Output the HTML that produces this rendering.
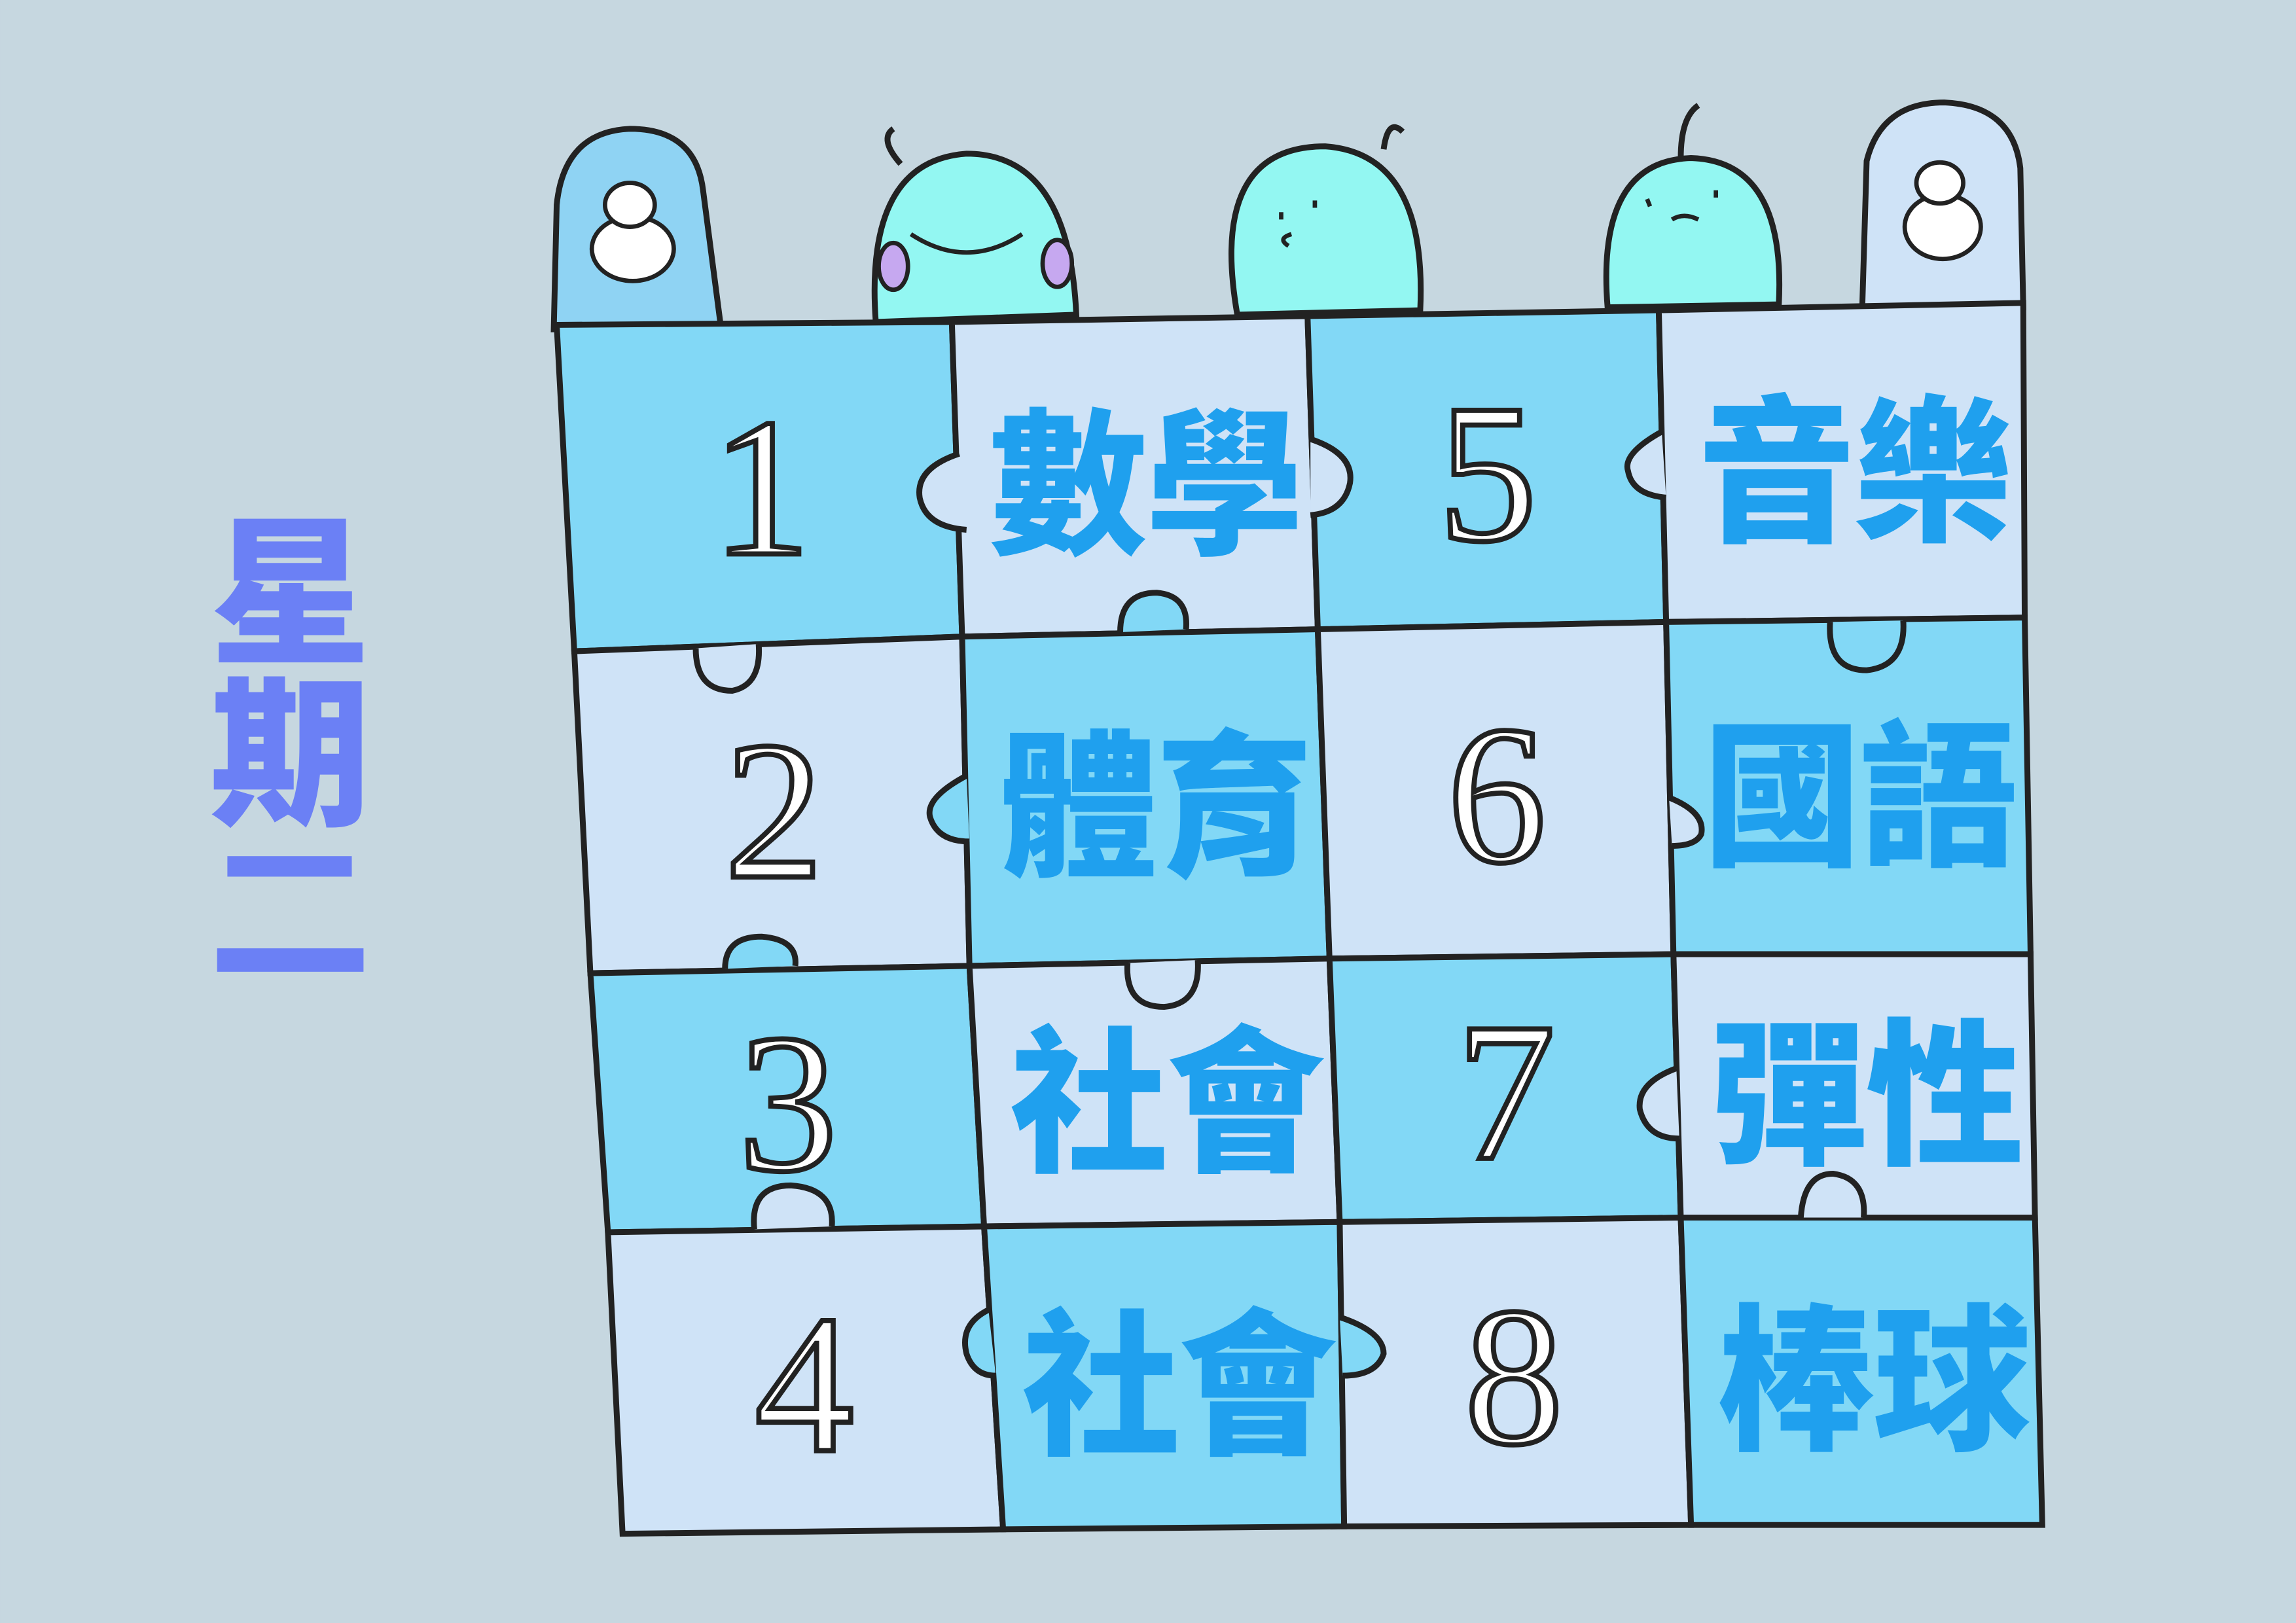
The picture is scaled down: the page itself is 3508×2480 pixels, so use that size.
<!DOCTYPE html>
<html><head><meta charset="utf-8"><style>
html,body{margin:0;padding:0;background:#c6d7e0;}
svg{display:block}
.cj{font-family:"Liberation Sans","Noto Sans CJK TC",sans-serif;font-weight:900;fill:#1fa0ee}
.num{font-family:"Liberation Serif","DejaVu Serif",serif;fill:#fff;stroke:#222;stroke-width:3.5}
</style></head><body>
<svg width="3508" height="2480" viewBox="0 0 1568 1109" xmlns="http://www.w3.org/2000/svg">
<rect width="1568" height="1109" fill="#c6d7e0"/>
<g>
<text class="cj" x="198" y="445" font-size="110" text-anchor="middle" style="fill:#6b80f5">星</text>
<text class="cj" x="198" y="555" font-size="110" text-anchor="middle" style="fill:#6b80f5">期</text>
<rect x="155" y="585" width="85" height="14" fill="#6b80f5"/>
<rect x="148" y="648" width="100" height="16" fill="#6b80f5"/>
</g>
<g>
<path d="M378,225 L380,140 Q385,90 430,88 Q475,88 480,130 L492,222 Z" fill="#8fd3f3" stroke="#222" stroke-width="4"/>
<ellipse cx="432" cy="170" rx="28" ry="22" fill="#fff" stroke="#222" stroke-width="3"/>
<ellipse cx="430" cy="140" rx="17" ry="15" fill="#fff" stroke="#222" stroke-width="3"/>
</g>
<g>
<path d="M1272,210 L1275,110 Q1285,70 1328,70 Q1375,72 1380,115 L1382,210 Z" fill="#cfe3f7" stroke="#222" stroke-width="4"/>
<ellipse cx="1327" cy="155" rx="26" ry="22" fill="#fff" stroke="#222" stroke-width="3"/>
<ellipse cx="1325" cy="125" rx="16" ry="14" fill="#fff" stroke="#222" stroke-width="3"/>
</g>
<g fill="#93f7f2" stroke="#222" stroke-width="4">
<path d="M598,220 Q590,110 660,105 Q730,105 735,215 Z"/>
<path d="M845,215 Q825,100 905,100 Q975,105 970,212 Z"/>
<path d="M1098,210 Q1090,110 1155,108 Q1220,110 1215,208 Z"/>
<path d="M615,112 Q600,95 610,88" fill="none"/><path d="M945,102 Q948,80 958,90" fill="none"/><path d="M1148,108 Q1148,80 1160,72" fill="none"/>
<ellipse cx="610" cy="182" rx="10" ry="16" fill="#c6a8f0" stroke-width="3"/>
<ellipse cx="722" cy="180" rx="10" ry="16" fill="#c6a8f0" stroke-width="3"/>
<path d="M622,160 Q660,185 698,160" fill="none" stroke-width="3"/>
<path d="M875,145 L875,150 M898,137 L898,142 M882,160 Q872,163 880,168" fill="none" stroke-width="3"/>
<path d="M1125,136 L1127,141 M1172,130 L1172,135 M1142,150 Q1150,145 1160,150" fill="none" stroke-width="3"/>
</g>
<g id="cells"></g>
<g stroke="#222" stroke-width="4">
<path d="M655,310 Q625,320 628,340 Q632,360 660,362" fill="#cfe3f7"/>
<path d="M895,300 Q925,310 922,330 Q918,350 895,352" fill="#cfe3f7"/>
<path d="M1135,295 Q1108,310 1112,322 Q1115,338 1138,340" fill="#cfe3f7"/>
<path d="M765,432 Q765,405 790,405 Q812,407 810,430" fill="#82d8f6"/>
<path d="M1250,425 Q1248,458 1275,458 Q1302,455 1300,424" fill="#82d8f6"/>
<path d="M475,443 Q475,472 500,472 Q520,468 518,440" fill="#cfe3f7"/>
<path d="M660,530 Q632,545 635,558 Q640,575 662,575" fill="#82d8f6"/>
<path d="M1140,545 Q1165,555 1162,570 Q1158,578 1142,578" fill="#cfe3f7"/>
<path d="M495,662 Q495,640 520,640 Q545,642 543,660" fill="#82d8f6"/>
<path d="M770,658 Q768,688 795,688 Q820,686 818,656" fill="#cfe3f7"/>
<path d="M1145,730 Q1118,740 1120,758 Q1125,778 1147,778" fill="#cfe3f7"/>
<path d="M515,840 Q512,810 540,810 Q570,812 568,838" fill="#cfe3f7"/>
<path d="M1230,832 Q1232,802 1252,802 Q1275,805 1273,832" fill="#cfe3f7"/>
<path d="M675,895 Q655,905 660,925 Q665,940 680,940" fill="#82d8f6"/>
<path d="M915,900 Q945,910 945,925 Q940,940 917,940" fill="#82d8f6"/>
</g>
<g id="labels"></g>
</svg>
<script>
const xs=[[380,650,893,1133,1382],[392,657,900,1138,1383],[403,662,908,1143,1387],[415,672,915,1148,1390],[425,685,918,1155,1395]];
const ys=[[222,220,216,212,207],[445,435,430,425,422],[665,660,655,652,652],[842,838,835,832,832],[1048,1045,1043,1042,1042]];
const subjects=[["1","數學","5","音樂"],["2","體育","6","國語"],["3","社會","7","彈性"],["4","社會","8","棒球"]];
const NS="http://www.w3.org/2000/svg";
const cells=document.getElementById('cells'),labels=document.getElementById('labels');
for(let r=0;r<4;r++)for(let c=0;c<4;c++){
 const p=document.createElementNS(NS,'polygon');
 const pts=[[xs[r][c],ys[r][c]],[xs[r][c+1],ys[r][c+1]],[xs[r+1][c+1],ys[r+1][c+1]],[xs[r+1][c],ys[r+1][c]]];
 p.setAttribute('points',pts.map(q=>q.join(',')).join(' '));
 p.setAttribute('fill',(r+c)%2==0?'#82d8f6':'#cfe3f7');
 p.setAttribute('stroke','#222');p.setAttribute('stroke-width','4');
 
 
 cells.appendChild(p);
 const cx=pts.reduce((a,q)=>a+q[0],0)/4, cy=pts.reduce((a,q)=>a+q[1],0)/4;
 const t=document.createElementNS(NS,'text');
 const s=subjects[r][c];
 t.textContent=s;
 t.setAttribute('x',cx+(c%2==0?0:8));t.setAttribute('text-anchor','middle');
 if(c%2==0){t.setAttribute('class','num');t.setAttribute('font-size','135');t.setAttribute('y',cy+48);
  }
 else{t.setAttribute('class','cj');t.setAttribute('font-size','108');t.setAttribute('y',cy+45);t.setAttribute('textLength','215');
  }
 
 labels.appendChild(t);
}
</script>
</body></html>
